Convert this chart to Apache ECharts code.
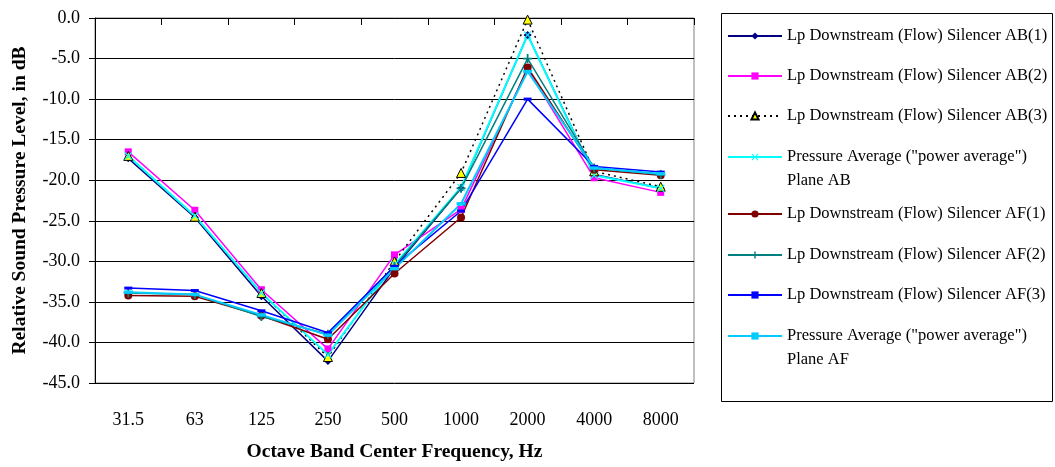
<!DOCTYPE html>
<html>
<head>
<meta charset="utf-8">
<script src="https://cdn.jsdelivr.net/npm/echarts@6/dist/echarts.min.js"></script>
<style>
  html, body { margin: 0; padding: 0; background: #fff; }
  #chart { width: 1055px; height: 467px; }
</style>
</head>
<body>
<div id="chart"></div>
<script>
// octave band centres
var categories = ['31.5', '63', '125', '250', '500', '1000', '2000', '4000', '8000'];

// values, dB
var ab1   = [-17.3, -24.6, -34.3, -42.3, -30.8, -21.0, -2.1, -19.3, -21.0];
var ab2   = [-16.5, -23.7, -33.5, -40.8, -29.2, -23.6, -6.3, -19.7, -21.5];
var ab3   = [-17.0, -24.5, -33.9, -41.8, -30.0, -19.1, -0.2, -18.9, -20.8];
var abAvg = [-17.0, -24.4, -33.9, -41.5, -30.4, -20.9, -2.1, -19.4, -21.0];
var af1   = [-34.2, -34.3, -36.7, -39.6, -31.5, -24.6, -6.1, -18.7, -19.4];
var af2   = [-33.9, -34.1, -36.8, -39.0, -30.6, -21.0, -5.0, -18.5, -19.3];
var af3   = [-33.3, -33.6, -36.1, -38.8, -30.6, -23.8, -10.0, -18.3, -19.0];
var afAvg = [-33.8, -34.1, -36.6, -39.1, -30.9, -22.9, -6.6, -18.5, -19.2];

var names = [
  'Lp Downstream (Flow) Silencer AB(1)',
  'Lp Downstream (Flow) Silencer AB(2)',
  'Lp Downstream (Flow) Silencer AB(3)',
  'Pressure Average ("power average")\nPlane AB',
  'Lp Downstream (Flow) Silencer AF(1)',
  'Lp Downstream (Flow) Silencer AF(2)',
  'Lp Downstream (Flow) Silencer AF(3)',
  'Pressure Average ("power average")\nPlane AF'
];

var FONT = '"Liberation Serif", "DejaVu Serif", serif';
var crossPath = 'path://M0,1L1,0L5,4L9,0L10,1L6,5L10,9L9,10L5,6L1,10L0,9L4,5Z';
var plusPath = 'path://M4,0H6V4H10V6H6V10H4V6H0V4H4Z';
var dashPath = 'path://M0,0H8V3H0Z';

function line (name, data, color, symbol, size, extra) {
  var s = {
    name: name,
    type: 'line',
    data: data,
    symbol: symbol,
    symbolSize: size,
    symbolKeepAspect: true,
    lineStyle: { color: color, width: 1.5 },
    itemStyle: { color: color },
    emphasis: { disabled: true }
  };
  return Object.assign(s, extra || {});
}

var series = [
  line(names[0], ab1, '#000080', 'diamond', 8),
  line(names[1], ab2, '#FF00FF', 'rect', 7),
  line(names[2], ab3, '#000000', 'triangle', 9, {
    lineStyle: { color: '#000000', width: 1.5, type: [2, 4] },
    itemStyle: { color: '#FFFF00', borderColor: '#000000', borderWidth: 1 }
  }),
  line(names[3], abAvg, '#00FFFF', crossPath, 8, { lineStyle: { color: '#00FFFF', width: 2 } }),
  line(names[4], af1, '#800000', 'circle', 8),
  line(names[5], af2, '#008080', plusPath, 9),
  line(names[6], af3, '#0000FF', dashPath, 8),
  line(names[7], afAvg, '#00CCFF', dashPath, 9, { lineStyle: { color: '#00CCFF', width: 2 } })
];

// one legend per entry so each row sits where it does in the picture
var legendTops = [26, 66, 106, 147, 204, 245, 285, 326];
var legends = names.map(function (n, i) {
  return {
    left: 727,
    top: legendTops[i],
    padding: 0,
    itemWidth: 54,
    itemHeight: 9,
    selectedMode: false,
    data: [n],
    formatter: function (name) { return name.split('\n')[0]; },
    textStyle: { fontFamily: FONT, fontSize: 16.5, color: '#000', lineHeight: 20 }
  };
});

// second lines of the two-line legend entries
var secondLines = [];
names.forEach(function (n, i) {
  var parts = n.split('\n');
  if (parts.length > 1) {
    secondLines.push({
      type: 'text',
      left: 787,
      top: legendTops[i] + 25,
      style: { text: parts[1], font: '16.5px ' + FONT, fill: '#000' }
    });
  }
});

var chart = echarts.init(document.getElementById('chart'));
chart.setOption({
  animation: false,
  backgroundColor: '#fff',
  textStyle: { fontFamily: FONT },
  grid: {
    left: 95, top: 18, right: 361, bottom: 79,
    show: true, borderColor: '#808080', borderWidth: 1
  },
  legend: legends,
  graphic: [{
    type: 'rect',
    shape: { x: 721.5, y: 13.5, width: 331, height: 388 },
    style: { fill: 'none', stroke: '#000', lineWidth: 1 },
    z: -1
  }].concat(secondLines),
  xAxis: {
    type: 'category',
    data: categories,
    boundaryGap: true,
    name: 'Octave Band Center Frequency, Hz',
    nameLocation: 'middle',
    nameGap: 59,
    nameTextStyle: { fontFamily: FONT, fontSize: 19.5, fontWeight: 'bold', color: '#000' },
    axisLine: { lineStyle: { color: '#000', width: 1 } },
    axisTick: { show: true, inside: false, length: 7, lineStyle: { color: '#000' } },
    axisLabel: { margin: 28, fontFamily: FONT, fontSize: 18, color: '#000' },
    splitLine: { show: false }
  },
  yAxis: {
    type: 'value',
    min: -45,
    max: 0,
    interval: 5,
    name: 'Relative Sound Pressure Level, in dB',
    nameLocation: 'middle',
    nameGap: 65,
    nameTextStyle: { fontFamily: FONT, fontSize: 19.5, fontWeight: 'bold', color: '#000' },
    axisLine: { show: true, lineStyle: { color: '#000', width: 1 } },
    axisTick: { show: true, length: 6, lineStyle: { color: '#000' } },
    axisLabel: {
      margin: 15, fontFamily: FONT, fontSize: 18, color: '#000',
      formatter: function (v) { return v.toFixed(1); }
    },
    splitLine: { show: true, lineStyle: { color: '#000', width: 1 } }
  },
  series: series
});
</script>
</body>
</html>
